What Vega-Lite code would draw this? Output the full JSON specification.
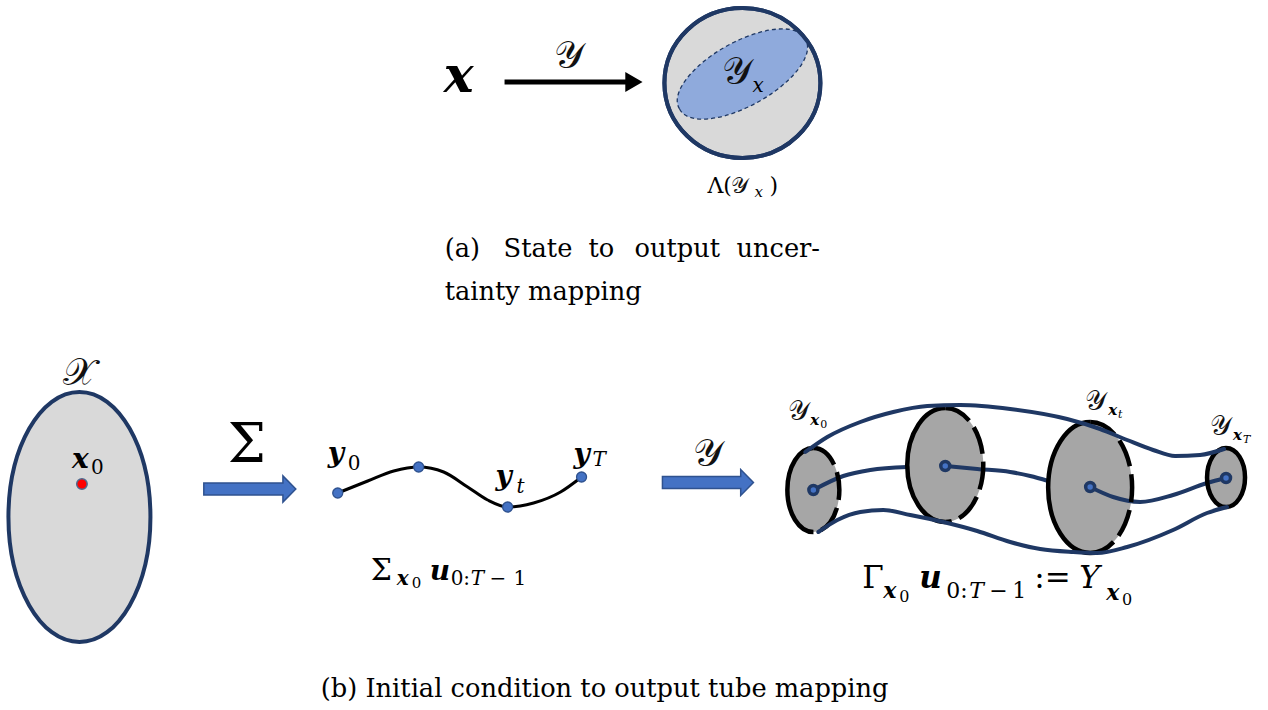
{
  "$schema": "https://vega.github.io/schema/vega-lite/v6.json",
  "width": 1268,
  "height": 710,
  "autosize": {"type": "fit", "contains": "padding"},
  "padding": 0,
  "background": "white",
  "config": {"view": {"stroke": null}, "text": {"font": "DejaVu Serif"}},
  "datasets": {
    "ovals": [
      {"id": "lambda", "x": 742, "y": 83, "r": 75},
      {"id": "yx", "x": 742, "y": 74, "r": 31},
      {"id": "X", "x": 78.5, "y": 517, "r": 125},
      {"id": "E0", "x": 813, "y": 490, "r": 42},
      {"id": "E1", "x": 945, "y": 465, "r": 57},
      {"id": "E2", "x": 1090, "y": 487.5, "r": 65.5},
      {"id": "E3", "x": 1226, "y": 477.5, "r": 29.5}
    ],
    "arrows": [
      {"id": "state", "x": 573, "y": 82, "r": 69},
      {"id": "sigma", "x": 249, "y": 489, "r": 46},
      {"id": "tube", "x": 707.5, "y": 482.5, "r": 45.5}
    ],
    "curves": [
      {"path": "traj", "x": 337, "y": 493}, {"path": "traj", "x": 367, "y": 481}, {"path": "traj", "x": 393, "y": 471},
      {"path": "traj", "x": 418, "y": 467}, {"path": "traj", "x": 443, "y": 472}, {"path": "traj", "x": 467, "y": 487},
      {"path": "traj", "x": 487, "y": 500}, {"path": "traj", "x": 507, "y": 507}, {"path": "traj", "x": 533, "y": 503},
      {"path": "traj", "x": 560, "y": 492}, {"path": "traj", "x": 581, "y": 477},
      {"path": "top", "x": 805, "y": 452}, {"path": "top", "x": 827, "y": 437}, {"path": "top", "x": 860, "y": 422},
      {"path": "top", "x": 893, "y": 412}, {"path": "top", "x": 927, "y": 406}, {"path": "top", "x": 960, "y": 405},
      {"path": "top", "x": 1010, "y": 409}, {"path": "top", "x": 1067, "y": 419}, {"path": "top", "x": 1100, "y": 429},
      {"path": "top", "x": 1127, "y": 440}, {"path": "top", "x": 1153, "y": 450}, {"path": "top", "x": 1175, "y": 456},
      {"path": "top", "x": 1200, "y": 455}, {"path": "top", "x": 1224, "y": 449},
      {"path": "bottom", "x": 818, "y": 532}, {"path": "bottom", "x": 837, "y": 520}, {"path": "bottom", "x": 860, "y": 512},
      {"path": "bottom", "x": 883, "y": 510}, {"path": "bottom", "x": 910, "y": 515}, {"path": "bottom", "x": 943, "y": 522},
      {"path": "bottom", "x": 977, "y": 531}, {"path": "bottom", "x": 1010, "y": 542}, {"path": "bottom", "x": 1040, "y": 549},
      {"path": "bottom", "x": 1073, "y": 552}, {"path": "bottom", "x": 1097, "y": 553}, {"path": "bottom", "x": 1127, "y": 547},
      {"path": "bottom", "x": 1173, "y": 530}, {"path": "bottom", "x": 1207, "y": 513}, {"path": "bottom", "x": 1227, "y": 507},
      {"path": "mid-a", "x": 813, "y": 490}, {"path": "mid-a", "x": 843, "y": 476}, {"path": "mid-a", "x": 870, "y": 470},
      {"path": "mid-a", "x": 907, "y": 467},
      {"path": "mid-b", "x": 945, "y": 466}, {"path": "mid-b", "x": 977, "y": 469}, {"path": "mid-b", "x": 1010, "y": 472},
      {"path": "mid-b", "x": 1030, "y": 476}, {"path": "mid-b", "x": 1048, "y": 481},
      {"path": "mid-c", "x": 1090, "y": 487}, {"path": "mid-c", "x": 1113, "y": 497}, {"path": "mid-c", "x": 1140, "y": 502},
      {"path": "mid-c", "x": 1173, "y": 495}, {"path": "mid-c", "x": 1207, "y": 483}, {"path": "mid-c", "x": 1226, "y": 478}
    ],
    "dots": [
      {"kind": "sample", "x": 337, "y": 493}, {"kind": "sample", "x": 418, "y": 467},
      {"kind": "sample", "x": 507, "y": 507}, {"kind": "sample", "x": 581, "y": 477},
      {"kind": "initial", "x": 81, "y": 484},
      {"kind": "center", "x": 813, "y": 490}, {"kind": "center", "x": 945, "y": 466},
      {"kind": "center", "x": 1090, "y": 487}, {"kind": "center", "x": 1226, "y": 478}
    ],
    "labels": [
      {"t": "x", "x": 443, "y": 92, "kind": "vec", "tier": "hero"},
      {"t": "𝒴", "x": 553, "y": 68, "kind": "set", "tier": "large"},
      {"t": "𝒴", "x": 722, "y": 84, "kind": "set", "tier": "large"},
      {"t": "x", "x": 752, "y": 92, "kind": "var", "tier": "sub"},
      {"t": "Λ(", "x": 707, "y": 193, "kind": "upright", "tier": "lam"},
      {"t": "𝒴", "x": 731, "y": 193, "kind": "set", "tier": "lam"},
      {"t": "x", "x": 754, "y": 197, "kind": "var", "tier": "subsub"},
      {"t": ")", "x": 769, "y": 193, "kind": "upright", "tier": "lam"},
      {"t": "(a)", "x": 444, "y": 257, "kind": "upright", "tier": "caption"},
      {"t": "State", "x": 503, "y": 257, "kind": "upright", "tier": "caption"},
      {"t": "to", "x": 588, "y": 257, "kind": "upright", "tier": "caption"},
      {"t": "output", "x": 634, "y": 257, "kind": "upright", "tier": "caption"},
      {"t": "uncer-", "x": 736, "y": 257, "kind": "upright", "tier": "caption"},
      {"t": "tainty mapping", "x": 444, "y": 300, "kind": "upright", "tier": "caption"},
      {"t": "𝒳", "x": 62, "y": 385, "kind": "set", "tier": "large"},
      {"t": "x", "x": 71, "y": 468, "kind": "vec", "tier": "body"},
      {"t": "0", "x": 90, "y": 474, "kind": "upright", "tier": "sub"},
      {"t": "Σ", "x": 227, "y": 462, "kind": "upright", "tier": "jumbo"},
      {"t": "y", "x": 327, "y": 462, "kind": "vec", "tier": "body"},
      {"t": "0", "x": 347, "y": 470, "kind": "upright", "tier": "sub"},
      {"t": "y", "x": 495, "y": 485, "kind": "vec", "tier": "body"},
      {"t": "t", "x": 516, "y": 493, "kind": "var", "tier": "sub"},
      {"t": "y", "x": 573, "y": 463, "kind": "vec", "tier": "body"},
      {"t": "T", "x": 592, "y": 466, "kind": "var", "tier": "sub"},
      {"t": "Σ", "x": 370, "y": 580, "kind": "upright", "tier": "lsigma"},
      {"t": "x", "x": 396, "y": 585, "kind": "vec", "tier": "sub"},
      {"t": "0", "x": 411, "y": 588, "kind": "upright", "tier": "subsub"},
      {"t": "u", "x": 429, "y": 580, "kind": "vec", "tier": "body"},
      {"t": "0:", "x": 450, "y": 585, "kind": "upright", "tier": "sub"},
      {"t": "T", "x": 470, "y": 585, "kind": "var", "tier": "sub"},
      {"t": "−", "x": 489, "y": 585, "kind": "upright", "tier": "sub"},
      {"t": "1", "x": 513, "y": 585, "kind": "upright", "tier": "sub"},
      {"t": "Γ", "x": 862, "y": 588, "kind": "upright", "tier": "rbody"},
      {"t": "x", "x": 883, "y": 598, "kind": "vec", "tier": "rsub"},
      {"t": "0", "x": 899, "y": 602, "kind": "upright", "tier": "rsubsub"},
      {"t": "u", "x": 919, "y": 588, "kind": "vec", "tier": "rbody"},
      {"t": "0:", "x": 946, "y": 598, "kind": "upright", "tier": "rsub"},
      {"t": "T", "x": 969, "y": 598, "kind": "var", "tier": "rsub"},
      {"t": "−", "x": 989, "y": 598, "kind": "upright", "tier": "rsub"},
      {"t": "1", "x": 1012, "y": 598, "kind": "upright", "tier": "rsub"},
      {"t": ":=", "x": 1034, "y": 588, "kind": "upright", "tier": "rbody"},
      {"t": "Y", "x": 1079, "y": 588, "kind": "var", "tier": "rbody"},
      {"t": "x", "x": 1106, "y": 600, "kind": "vec", "tier": "rsub"},
      {"t": "0", "x": 1122, "y": 605, "kind": "upright", "tier": "rsubsub"},
      {"t": "𝒴", "x": 693, "y": 466, "kind": "set", "tier": "large"},
      {"t": "𝒴", "x": 788, "y": 420, "kind": "set", "tier": "tag"},
      {"t": "x", "x": 810, "y": 425, "kind": "vec", "tier": "tagsub"},
      {"t": "0", "x": 820, "y": 428, "kind": "upright", "tier": "tagsubsub"},
      {"t": "𝒴", "x": 1085, "y": 410, "kind": "set", "tier": "tag"},
      {"t": "x", "x": 1108, "y": 415, "kind": "vec", "tier": "tagsub"},
      {"t": "t", "x": 1118, "y": 418, "kind": "var", "tier": "tagsubsub"},
      {"t": "𝒴", "x": 1210, "y": 435, "kind": "set", "tier": "tag"},
      {"t": "x", "x": 1233, "y": 440, "kind": "vec", "tier": "tagsub"},
      {"t": "T", "x": 1243, "y": 443, "kind": "var", "tier": "tagsubsub"},
      {"t": "(b) Initial condition to output tube mapping", "x": 320, "y": 697, "kind": "upright", "tier": "caption"}
    ]
  },
  "encoding": {
    "x": {"field": "x", "type": "quantitative", "scale": {"domain": [0, 1268], "nice": false, "zero": false}, "axis": null},
    "y": {"field": "y", "type": "quantitative", "scale": {"domain": [0, 710], "reverse": true, "nice": false, "zero": false}, "axis": null}
  },
  "layer": [
    {
      "data": {"name": "ovals"},
      "transform": [{"filter": "datum.id === 'lambda' || datum.id === 'X'"}],
      "mark": {"type": "point", "filled": true, "fill": "#D9D9D9", "stroke": "#1F3864", "strokeWidth": 4, "opacity": 1},
      "encoding": {
        "size": {"field": "r", "type": "quantitative", "scale": {"type": "pow", "exponent": 2, "domain": [0, 200], "range": [0, 160000], "nice": false}, "legend": null},
        "shape": {"condition": [
          {"test": "datum.id === 'lambda'", "value": "M -1.04 0 A 1.04 1 0 1 1 1.04 0 A 1.04 1 0 1 1 -1.04 0 Z"}
        ], "value": "M -0.568 0 A 0.568 1 0 1 1 0.568 0 A 0.568 1 0 1 1 -0.568 0 Z"}
      }
    },
    {
      "data": {"name": "ovals"},
      "transform": [{"filter": "datum.id === 'yx'"}],
      "mark": {"type": "point", "filled": true, "fill": "#8FAADC", "stroke": "#1F3864", "strokeWidth": 1.3, "strokeDash": [4, 3], "opacity": 1,
        "shape": "M -2.028 1.124 A 2.32 1 -29 1 1 2.028 -1.124 A 2.32 1 -29 1 1 -2.028 1.124 Z"},
      "encoding": {
        "size": {"field": "r", "type": "quantitative", "scale": {"type": "pow", "exponent": 2, "domain": [0, 200], "range": [0, 160000], "nice": false}, "legend": null}
      }
    },
    {
      "data": {"name": "ovals"},
      "transform": [{"filter": "datum.id === 'lambda'"}],
      "mark": {"type": "point", "filled": false, "stroke": "#1F3864", "strokeWidth": 4, "opacity": 1,
        "shape": "M -1.04 0 A 1.04 1 0 1 1 1.04 0 A 1.04 1 0 1 1 -1.04 0 Z"},
      "encoding": {
        "size": {"field": "r", "type": "quantitative", "scale": {"type": "pow", "exponent": 2, "domain": [0, 200], "range": [0, 160000], "nice": false}, "legend": null}
      }
    },
    {
      "data": {"name": "arrows"},
      "transform": [{"filter": "datum.id === 'state'"}],
      "mark": {"type": "point", "filled": true, "fill": "#000000", "strokeWidth": 0, "opacity": 1,
        "shape": "M -1 -0.036 L 0.75 -0.036 L 0.75 -0.145 L 1 0 L 0.75 0.145 L 0.75 0.036 L -1 0.036 Z"},
      "encoding": {
        "size": {"field": "r", "type": "quantitative", "scale": {"type": "pow", "exponent": 2, "domain": [0, 200], "range": [0, 160000], "nice": false}, "legend": null}
      }
    },
    {
      "data": {"name": "arrows"},
      "transform": [{"filter": "datum.id !== 'state'"}],
      "mark": {"type": "point", "filled": true, "fill": "#4472C4", "stroke": "#2F528F", "strokeWidth": 1.5, "opacity": 1,
        "shape": "M -1 -0.13 L 0.72 -0.13 L 0.72 -0.285 L 1 0 L 0.72 0.285 L 0.72 0.13 L -1 0.13 Z"},
      "encoding": {
        "size": {"field": "r", "type": "quantitative", "scale": {"type": "pow", "exponent": 2, "domain": [0, 200], "range": [0, 160000], "nice": false}, "legend": null}
      }
    },
    {
      "data": {"name": "ovals"},
      "transform": [{"filter": "indexof(['E0','E1','E2','E3'], datum.id) >= 0"}],
      "mark": {"type": "point", "filled": true, "fill": "#A6A6A6", "strokeWidth": 0, "opacity": 1},
      "encoding": {
        "size": {"field": "r", "type": "quantitative", "scale": {"type": "pow", "exponent": 2, "domain": [0, 200], "range": [0, 160000], "nice": false}, "legend": null},
        "shape": {"condition": [
          {"test": "datum.id === 'E0'", "value": "M -0.619 0 A 0.619 1 0 1 1 0.619 0 A 0.619 1 0 1 1 -0.619 0 Z"},
          {"test": "datum.id === 'E1'", "value": "M -0.667 0 A 0.667 1 0 1 1 0.667 0 A 0.667 1 0 1 1 -0.667 0 Z"},
          {"test": "datum.id === 'E2'", "value": "M -0.641 0 A 0.641 1 0 1 1 0.641 0 A 0.641 1 0 1 1 -0.641 0 Z"}
        ], "value": "M -0.644 0 A 0.644 1 0 1 1 0.644 0 A 0.644 1 0 1 1 -0.644 0 Z"}
      }
    },
    {
      "data": {"name": "curves"},
      "transform": [{"filter": "indexof(datum.path, 'mid') === 0"}],
      "mark": {"type": "line", "interpolate": "monotone", "stroke": "#1F3864", "strokeWidth": 4, "strokeCap": "round"},
      "encoding": {"detail": {"field": "path"}}
    },
    {
      "data": {"name": "ovals"},
      "transform": [{"filter": "indexof(['E0','E1','E2','E3'], datum.id) >= 0"}],
      "mark": {"type": "point", "filled": false, "stroke": "#000000", "strokeWidth": 4.5, "opacity": 1},
      "encoding": {
        "size": {"field": "r", "type": "quantitative", "scale": {"type": "pow", "exponent": 2, "domain": [0, 200], "range": [0, 160000], "nice": false}, "legend": null},
        "shape": {"condition": [
          {"test": "datum.id === 'E0'", "value": "M 0 -1 A 0.619 1 0 0 0 0 1"},
          {"test": "datum.id === 'E1'", "value": "M 0 -1 A 0.667 1 0 0 0 0 1"},
          {"test": "datum.id === 'E2'", "value": "M 0 -1 A 0.641 1 0 0 0 0 1"}
        ], "value": "M 0 -1 A 0.644 1 0 0 0 0 1"}
      }
    },
    {
      "data": {"name": "ovals"},
      "transform": [{"filter": "indexof(['E0','E1','E2'], datum.id) >= 0"}],
      "mark": {"type": "point", "filled": false, "stroke": "#000000", "strokeWidth": 4.5, "strokeDash": [28, 8], "opacity": 1},
      "encoding": {
        "size": {"field": "r", "type": "quantitative", "scale": {"type": "pow", "exponent": 2, "domain": [0, 200], "range": [0, 160000], "nice": false}, "legend": null},
        "shape": {"condition": [
          {"test": "datum.id === 'E0'", "value": "M 0 -1 A 0.619 1 0 0 1 0 1"},
          {"test": "datum.id === 'E1'", "value": "M 0 -1 A 0.667 1 0 0 1 0 1"}
        ], "value": "M 0 -1 A 0.641 1 0 0 1 0 1"}
      }
    },
    {
      "data": {"name": "ovals"},
      "transform": [{"filter": "datum.id === 'E3'"}],
      "mark": {"type": "point", "filled": false, "stroke": "#000000", "strokeWidth": 4.5, "opacity": 1,
        "shape": "M 0 -1 A 0.644 1 0 0 1 0 1"},
      "encoding": {
        "size": {"field": "r", "type": "quantitative", "scale": {"type": "pow", "exponent": 2, "domain": [0, 200], "range": [0, 160000], "nice": false}, "legend": null}
      }
    },
    {
      "data": {"name": "curves"},
      "transform": [{"filter": "datum.path === 'top' || datum.path === 'bottom'"}],
      "mark": {"type": "line", "interpolate": "monotone", "stroke": "#1F3864", "strokeWidth": 4, "strokeCap": "round"},
      "encoding": {"detail": {"field": "path"}}
    },
    {
      "data": {"name": "curves"},
      "transform": [{"filter": "datum.path === 'traj'"}],
      "mark": {"type": "line", "interpolate": "monotone", "stroke": "#000000", "strokeWidth": 3},
      "encoding": {}
    },
    {
      "data": {"name": "dots"},
      "transform": [{"filter": "datum.kind === 'sample'"}],
      "mark": {"type": "point", "shape": "circle", "filled": true, "fill": "#4472C4", "stroke": "#2F528F", "strokeWidth": 1.3, "size": 100, "opacity": 1},
      "encoding": {}
    },
    {
      "data": {"name": "dots"},
      "transform": [{"filter": "datum.kind === 'initial'"}],
      "mark": {"type": "point", "shape": "circle", "filled": true, "fill": "#FF0000", "stroke": "#4F6A8F", "strokeWidth": 1.5, "size": 110, "opacity": 1},
      "encoding": {}
    },
    {
      "data": {"name": "dots"},
      "transform": [{"filter": "datum.kind === 'center'"}],
      "mark": {"type": "point", "shape": "circle", "filled": true, "fill": "#4472C4", "stroke": "#1F3864", "strokeWidth": 3.5, "size": 80, "opacity": 1},
      "encoding": {}
    },
    {
      "data": {"name": "labels"},
      "encoding": {
        "text": {"field": "t"},
        "size": {"condition": [
          {"test": "datum.tier === 'jumbo'", "value": 54},
          {"test": "datum.tier === 'hero'", "value": 50},
          {"test": "datum.tier === 'large'", "value": 38},
          {"test": "datum.tier === 'lsigma'", "value": 30},
          {"test": "datum.tier === 'caption'", "value": 25.7},
          {"test": "datum.tier === 'rbody'", "value": 31},
          {"test": "datum.tier === 'tag'", "value": 27},
          {"test": "datum.tier === 'rsub'", "value": 22},
          {"test": "datum.tier === 'lam'", "value": 22},
          {"test": "datum.tier === 'sub'", "value": 20},
          {"test": "datum.tier === 'rsubsub'", "value": 16},
          {"test": "datum.tier === 'subsub'", "value": 15},
          {"test": "datum.tier === 'tagsub'", "value": 15},
          {"test": "datum.tier === 'tagsubsub'", "value": 11}
        ], "value": 28}
      },
      "layer": [
        {
          "transform": [{"filter": "datum.kind === 'vec'"}],
          "mark": {"type": "text", "align": "left", "baseline": "alphabetic", "font": "DejaVu Serif", "fontStyle": "italic", "fontWeight": "bold", "color": "#000000"}
        },
        {
          "transform": [{"filter": "datum.kind === 'var'"}],
          "mark": {"type": "text", "align": "left", "baseline": "alphabetic", "font": "DejaVu Serif", "fontStyle": "italic", "color": "#000000"}
        },
        {
          "transform": [{"filter": "datum.kind === 'upright'"}],
          "mark": {"type": "text", "align": "left", "baseline": "alphabetic", "font": "DejaVu Serif", "color": "#000000"}
        },
        {
          "transform": [{"filter": "datum.kind === 'set'"}],
          "mark": {"type": "text", "align": "left", "baseline": "alphabetic", "font": "DejaVu Serif", "color": "#111111"}
        }
      ]
    }
  ]
}
